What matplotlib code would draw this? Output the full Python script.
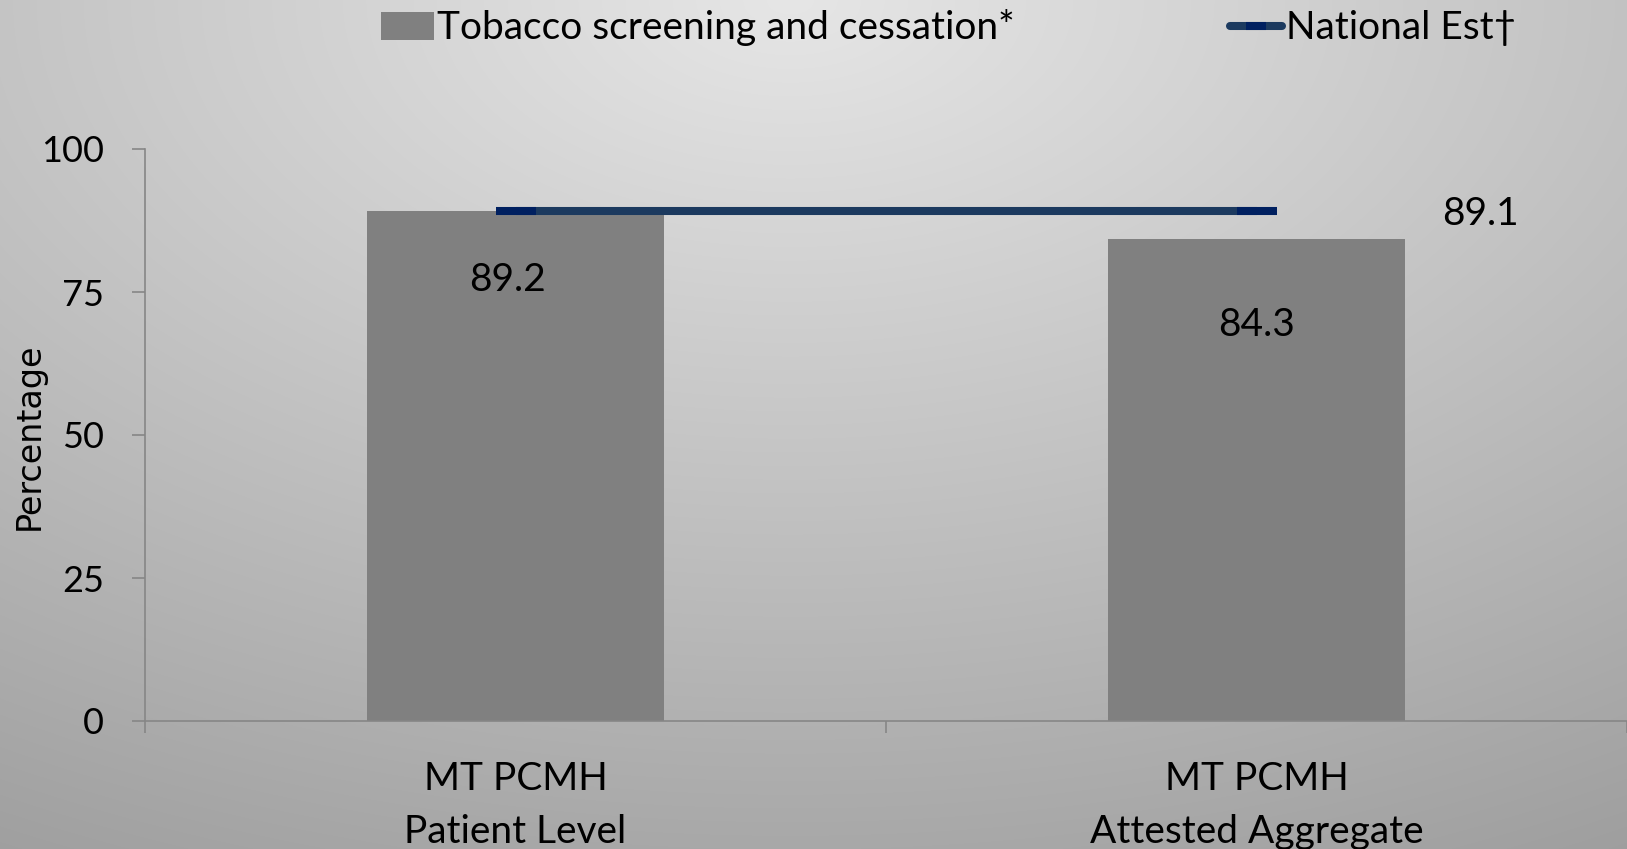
import numpy as np
import matplotlib.pyplot as plt
from matplotlib.patches import Patch
from matplotlib.lines import Line2D

# categories and values
categories = ['MT PCMH\nPatient Level', 'MT PCMH\nAttested Aggregate']
screening = [89.2, 84.3]
national_est = [89.1, 89.1]
yticks = [0, 25, 50, 75, 100]

font = 'Lato'
fs = 28

fig = plt.figure(figsize=(16.27, 8.49), dpi=100)

# grey gradient backdrop, lightest at the top centre
H, W = 849, 1627
yy, xx = np.mgrid[0:H, 0:W]
dx = (xx - 790) / 800.0
dy = yy / 849.0
shade = (230 - 62 * np.sqrt(0.30 * dx**2 + dy**2)) / 255.0
shade = np.clip(shade, 0, 1)
bg = fig.add_axes([0, 0, 1, 1], zorder=-1)
bg.imshow(np.dstack([shade, shade, shade]), aspect='auto', extent=[0, 1, 0, 1])
bg.axis('off')

ax = fig.add_axes([145 / W, 1 - 721 / H, 1 - 145 / W, (721 - 149) / H])
ax.patch.set_alpha(0)

x = np.arange(len(categories))
ax.bar(x, screening, width=0.4, color='#808080', zorder=2)
ax.plot(x, national_est, color='#1c3a5f', lw=5.8, solid_capstyle='butt', zorder=3,
        marker='_', markersize=29, markeredgewidth=5.8, markeredgecolor='#002060')

# value labels
bar_offsets = [(-6, -50), (0, -62)]
for xi, v, off in zip(x, screening, bar_offsets):
    ax.annotate(f'{v}', (xi, v), xytext=off, textcoords='offset points',
                ha='center', va='center', fontsize=fs, family=font)
ax.annotate(f'{national_est[-1]}', (x[-1], national_est[-1]), xytext=(161, -2),
            textcoords='offset points', ha='center', va='center', fontsize=fs, family=font)

ax.set_xlim(-0.5, 1.487)
ax.set_ylim(0, 100)
ax.set_yticks(yticks)
ax.set_yticklabels([str(t) for t in yticks], fontsize=26, family=font)
ax.set_xticks(x)
ax.set_xticklabels(categories, fontsize=fs, family=font, linespacing=1.58)
ax.set_xticks([-0.5, 0.5, 1.5], minor=True)

spine_c = '#868686'
for s in ['top', 'right']:
    ax.spines[s].set_visible(False)
for s in ['left', 'bottom']:
    ax.spines[s].set_color(spine_c)
    ax.spines[s].set_linewidth(1.2)
ax.tick_params(axis='y', length=9.4, width=1.2, color=spine_c, pad=20)
ax.tick_params(axis='x', which='major', length=0, pad=29)
ax.tick_params(axis='x', which='minor', length=8.6, width=1.2, color=spine_c)

ax.set_ylabel('Percentage', fontsize=24, family='DejaVu Sans')
ax.yaxis.set_label_coords(-0.0668, 0.497)

handles = [Patch(facecolor='#808080', edgecolor='none'),
           Line2D([0], [0], color='#1c3a5f', lw=5.8, solid_capstyle='round',
                  marker='_', markersize=14, markeredgewidth=5.8, markeredgecolor='#002060')]
fig.legend(handles, ['Tobacco screening and cessation*', 'National Est\u2020'],
           loc='center left', bbox_to_anchor=(381 / W, 1 - 28 / H), ncol=2,
           frameon=False, borderpad=0, borderaxespad=0, handlelength=1.35,
           handletextpad=0.1, columnspacing=5.52, prop={'family': font, 'size': fs})

fig.savefig('out.png', dpi=100)
